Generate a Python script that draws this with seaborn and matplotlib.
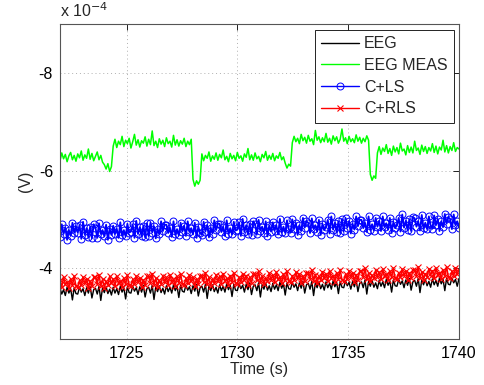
import numpy as np
import pandas as pd
import matplotlib
matplotlib.use("Agg")
import matplotlib.pyplot as plt
import seaborn as sns

# ---- data (values in units of 1e-4 V), sampled every 0.08 s ----
t_start, t_step, n_samples = 1722.0, 0.08, 226
time_s = t_start + t_step * np.arange(n_samples)

eeg = [
    -3.59, -3.47, -3.56, -3.44, -3.61, -3.49, -3.58, -3.35, -3.60, -3.48,
    -3.47, -3.61, -3.51, -3.58, -3.44, -3.60, -3.49, -3.63, -3.39, -3.56,
    -3.59, -3.47, -3.63, -3.34, -3.60, -3.50, -3.62, -3.48, -3.57, -3.45,
    -3.61, -3.49, -3.58, -3.46, -3.63, -3.51, -3.60, -3.37, -3.62, -3.50,
    -3.49, -3.63, -3.53, -3.60, -3.46, -3.62, -3.51, -3.65, -3.41, -3.58,
    -3.61, -3.49, -3.65, -3.36, -3.62, -3.52, -3.64, -3.50, -3.59, -3.47,
    -3.64, -3.52, -3.61, -3.49, -3.66, -3.54, -3.63, -3.40, -3.65, -3.53,
    -3.51, -3.65, -3.55, -3.62, -3.48, -3.64, -3.53, -3.67, -3.43, -3.60,
    -3.63, -3.51, -3.67, -3.38, -3.64, -3.54, -3.66, -3.52, -3.61, -3.49,
    -3.66, -3.54, -3.63, -3.51, -3.68, -3.56, -3.65, -3.42, -3.67, -3.55,
    -3.54, -3.68, -3.58, -3.65, -3.51, -3.67, -3.56, -3.70, -3.46, -3.63,
    -3.66, -3.54, -3.70, -3.41, -3.67, -3.57, -3.69, -3.55, -3.64, -3.52,
    -3.69, -3.57, -3.66, -3.54, -3.71, -3.59, -3.68, -3.45, -3.70, -3.58,
    -3.57, -3.71, -3.61, -3.68, -3.54, -3.70, -3.59, -3.73, -3.49, -3.66,
    -3.69, -3.57, -3.73, -3.44, -3.70, -3.60, -3.72, -3.58, -3.67, -3.55,
    -3.72, -3.60, -3.69, -3.57, -3.74, -3.62, -3.71, -3.48, -3.73, -3.61,
    -3.60, -3.74, -3.64, -3.71, -3.57, -3.73, -3.62, -3.76, -3.52, -3.69,
    -3.72, -3.60, -3.76, -3.47, -3.73, -3.63, -3.75, -3.61, -3.70, -3.58,
    -3.75, -3.63, -3.72, -3.60, -3.77, -3.65, -3.74, -3.51, -3.76, -3.64,
    -3.63, -3.77, -3.67, -3.74, -3.60, -3.76, -3.65, -3.79, -3.55, -3.72,
    -3.75, -3.63, -3.79, -3.50, -3.76, -3.66, -3.78, -3.64, -3.73, -3.61,
    -3.78, -3.66, -3.75, -3.63, -3.80, -3.68, -3.77, -3.54, -3.79, -3.67,
    -3.66, -3.80, -3.70, -3.77, -3.63, -3.79,
]

eeg_meas = [
    -6.20, -6.36, -6.24, -6.33, -6.18, -6.30, -6.37, -6.22, -6.31, -6.19,
    -6.34, -6.26, -6.40, -6.21, -6.32, -6.25, -6.44, -6.23, -6.35, -6.20,
    -6.29, -6.38, -6.22, -6.31, -6.17, -6.12, -6.03, -6.14, -5.98, -6.08,
    -6.50, -6.64, -6.47, -6.60, -6.53, -6.70, -6.49, -6.62, -6.55, -6.66,
    -6.46, -6.59, -6.74, -6.52, -6.63, -6.48, -6.61, -6.56, -6.69, -6.50,
    -6.64, -6.53, -6.81, -6.51, -6.60, -6.47, -6.65, -6.54, -6.62, -6.49,
    -6.67, -6.55, -6.60, -6.48, -6.72, -6.52, -6.63, -6.50, -6.61, -6.54,
    -6.66, -6.49, -6.60, -6.53, -6.64,
    -5.82, -5.68, -5.79, -5.72, -5.80,
    -6.34, -6.20, -6.31, -6.25, -6.38, -6.19, -6.30, -6.23, -6.36, -6.21,
    -6.33, -6.26, -6.42, -6.22, -6.29, -6.18, -6.35, -6.24, -6.31, -6.20,
    -6.37, -6.25, -6.30, -6.19, -6.34, -6.27, -6.45, -6.22, -6.32, -6.21,
    -6.36, -6.24, -6.29, -6.18, -6.33, -6.26, -6.39, -6.21, -6.31, -6.23,
    -6.35, -6.20, -6.30, -6.25, -6.37, -6.22, -6.28, -6.15, -6.05, -6.13, -6.09,
    -6.57, -6.70, -6.59, -6.66, -6.55, -6.74, -6.61, -6.68, -6.56, -6.72,
    -6.60, -6.65, -6.53, -6.82, -6.62, -6.69, -6.57, -6.67, -6.59, -6.76,
    -6.58, -6.66, -6.54, -6.71, -6.61, -6.69, -6.56, -6.64, -6.85, -6.60,
    -6.67, -6.55, -6.70, -6.59, -6.65, -6.57, -6.73, -6.60, -6.68, -6.56,
    -6.66, -6.59, -6.71, -6.62,
    -5.92, -5.80, -5.89, -5.84,
    -6.36, -6.49, -6.33, -6.46, -6.39, -6.53, -6.35, -6.45, -6.31, -6.50,
    -6.38, -6.47, -6.34, -6.56, -6.40, -6.44, -6.32, -6.51, -6.37, -6.48,
    -6.36, -6.60, -6.41, -6.46, -6.33, -6.52, -6.39, -6.49, -6.35, -6.47,
    -6.40, -6.55, -6.37, -6.50, -6.34, -6.48, -6.42, -6.62, -6.38, -6.51,
    -6.36, -6.49, -6.41, -6.57, -6.39, -6.47, -6.44,
]

c_ls = [
    -4.63, -4.90, -4.70, -4.83, -4.58, -4.78, -4.66, -4.93, -4.73, -4.86,
    -4.73, -4.88, -4.60, -4.95, -4.68, -4.82, -4.63, -4.85, -4.61, -4.90,
    -4.83, -4.62, -4.92, -4.70, -4.78, -4.65, -4.89, -4.58, -4.81, -4.68,
    -4.87, -4.70, -4.81, -4.62, -4.94, -4.67, -4.78, -4.65, -4.91, -4.73,
    -4.75, -4.90, -4.62, -4.97, -4.70, -4.84, -4.65, -4.87, -4.63, -4.92,
    -4.66, -4.93, -4.73, -4.86, -4.61, -4.81, -4.69, -4.96, -4.76, -4.89,
    -4.89, -4.72, -4.83, -4.64, -4.96, -4.69, -4.80, -4.67, -4.93, -4.75,
    -4.87, -4.66, -4.96, -4.74, -4.82, -4.69, -4.93, -4.62, -4.85, -4.72,
    -4.68, -4.95, -4.75, -4.88, -4.63, -4.83, -4.71, -4.98, -4.78, -4.91,
    -4.91, -4.74, -4.85, -4.66, -4.98, -4.71, -4.82, -4.69, -4.95, -4.77,
    -4.79, -4.94, -4.66, -5.01, -4.74, -4.88, -4.69, -4.91, -4.67, -4.96,
    -4.90, -4.69, -4.99, -4.77, -4.85, -4.72, -4.96, -4.65, -4.88, -4.75,
    -4.94, -4.77, -4.88, -4.69, -5.01, -4.74, -4.85, -4.72, -4.98, -4.80,
    -4.73, -5.00, -4.80, -4.93, -4.68, -4.88, -4.76, -5.03, -4.83, -4.96,
    -4.93, -4.72, -5.02, -4.80, -4.88, -4.75, -4.99, -4.68, -4.91, -4.78,
    -4.84, -4.99, -4.71, -5.06, -4.79, -4.93, -4.74, -4.96, -4.72, -5.01,
    -4.76, -5.03, -4.83, -4.96, -4.71, -4.91, -4.79, -5.06, -4.86, -4.99,
    -4.99, -4.82, -4.93, -4.74, -5.06, -4.79, -4.90, -4.77, -5.03, -4.85,
    -4.97, -4.76, -5.06, -4.84, -4.92, -4.79, -5.03, -4.72, -4.95, -4.82,
    -4.88, -5.03, -4.75, -5.10, -4.83, -4.97, -4.78, -5.00, -4.76, -5.05,
    -5.02, -4.85, -4.96, -4.77, -5.09, -4.82, -4.93, -4.80, -5.06, -4.88,
    -4.81, -5.08, -4.88, -5.01, -4.76, -4.96, -4.84, -5.11, -4.91, -5.04,
    -5.01, -4.80, -5.10, -4.88, -4.96, -4.83,
]

c_rls = [
    -3.76, -3.61, -3.82, -3.67, -3.72, -3.59, -3.78, -3.65, -3.84, -3.63,
    -3.61, -3.75, -3.65, -3.82, -3.69, -3.78, -3.59, -3.74, -3.63, -3.81,
    -3.81, -3.68, -3.87, -3.64, -3.77, -3.60, -3.73, -3.66, -3.83, -3.69,
    -3.78, -3.63, -3.84, -3.69, -3.74, -3.61, -3.80, -3.67, -3.86, -3.65,
    -3.63, -3.77, -3.67, -3.84, -3.71, -3.80, -3.61, -3.76, -3.65, -3.83,
    -3.83, -3.70, -3.89, -3.66, -3.79, -3.62, -3.75, -3.68, -3.85, -3.71,
    -3.81, -3.66, -3.87, -3.72, -3.77, -3.64, -3.83, -3.70, -3.89, -3.68,
    -3.65, -3.79, -3.69, -3.86, -3.73, -3.82, -3.63, -3.78, -3.67, -3.85,
    -3.85, -3.72, -3.91, -3.68, -3.81, -3.64, -3.77, -3.70, -3.87, -3.73,
    -3.83, -3.68, -3.89, -3.74, -3.79, -3.66, -3.85, -3.72, -3.91, -3.70,
    -3.68, -3.82, -3.72, -3.89, -3.76, -3.85, -3.66, -3.81, -3.70, -3.88,
    -3.88, -3.75, -3.94, -3.71, -3.84, -3.67, -3.80, -3.73, -3.90, -3.76,
    -3.86, -3.71, -3.92, -3.77, -3.82, -3.69, -3.88, -3.75, -3.94, -3.73,
    -3.71, -3.85, -3.75, -3.92, -3.79, -3.88, -3.69, -3.84, -3.73, -3.91,
    -3.91, -3.78, -3.97, -3.74, -3.87, -3.70, -3.83, -3.76, -3.93, -3.79,
    -3.89, -3.74, -3.95, -3.80, -3.85, -3.72, -3.91, -3.78, -3.97, -3.76,
    -3.74, -3.88, -3.78, -3.95, -3.82, -3.91, -3.72, -3.87, -3.76, -3.94,
    -3.94, -3.81, -4.00, -3.77, -3.90, -3.73, -3.86, -3.79, -3.96, -3.82,
    -3.92, -3.77, -3.98, -3.83, -3.88, -3.75, -3.94, -3.81, -4.00, -3.79,
    -3.77, -3.91, -3.81, -3.98, -3.85, -3.94, -3.75, -3.90, -3.79, -3.97,
    -3.97, -3.84, -4.03, -3.80, -3.93, -3.76, -3.89, -3.82, -3.99, -3.85,
    -3.95, -3.80, -4.01, -3.86, -3.91, -3.78, -3.97, -3.84, -4.03, -3.82,
    -3.80, -3.94, -3.84, -4.01, -3.88, -3.97,
]

x_ticks = [1725, 1730, 1735, 1740]
y_ticks = [-8, -6, -4]
series_labels = ["EEG", "EEG MEAS", "C+LS", "C+RLS"]

# ---- style ----
sns.set_style("white")
plt.rcParams["font.family"] = ["Liberation Sans", "DejaVu Sans"]
FS = 11.5
plt.rcParams["font.size"] = FS

fig = plt.figure(figsize=(4.85, 3.85), dpi=100)
ax = fig.add_axes([60 / 485, 46 / 385, 399 / 485, 315 / 385])

sns.lineplot(x=time_s, y=eeg, ax=ax, color="black", linewidth=1.0,
             estimator=None, sort=False, label=series_labels[0])
sns.lineplot(x=time_s, y=eeg_meas, ax=ax, color="#00ff00", linewidth=1.1,
             estimator=None, sort=False, label=series_labels[1])
sns.lineplot(x=time_s, y=c_ls, ax=ax, color="#0000ff", linewidth=1.3,
             marker="o", markersize=5.0, markerfacecolor="none",
             markeredgecolor="#0000ff", markeredgewidth=0.7,
             estimator=None, sort=False, label=series_labels[2])
sns.lineplot(x=time_s, y=c_rls, ax=ax, color="#ff0000", linewidth=1.1,
             marker="x", markersize=4.0, markeredgewidth=0.8,
             markeredgecolor="#ff0000",
             estimator=None, sort=False, label=series_labels[3])

ax.set_xlim(1722, 1740)
ax.set_ylim(-2.55, -9.0)
ax.set_xticks(x_ticks)
ax.set_yticks(y_ticks)
ax.set_xticklabels([str(v) for v in x_ticks])
ax.set_yticklabels([str(v) for v in y_ticks])
ax.grid(True, linestyle=(0, (1, 3)), color="#b0b0b0", linewidth=0.7)
ax.tick_params(direction="in", length=4, width=0.6, top=True, right=True,
               labelsize=FS, colors="black", pad=5)
for s in ax.spines.values():
    s.set_color("#555555")
    s.set_linewidth(0.8)

ax.set_xlabel("Time (s)", fontsize=FS, labelpad=1)
ax.set_ylabel("(V)", fontsize=FS, labelpad=4)
ax.text(0.0, 1.012, r"x 10$^{-4}$", transform=ax.transAxes,
        ha="left", va="bottom", fontsize=FS)

leg = ax.legend(loc="upper right", bbox_to_anchor=(0.988, 0.981),
                frameon=True, fancybox=False, fontsize=FS,
                handlelength=2.4, handletextpad=0.3, labelspacing=0.42,
                borderpad=0.4, borderaxespad=0.0)
for h in leg.get_lines():
    h.set_linewidth(1.0)
leg.get_frame().set_edgecolor("black")
leg.get_frame().set_linewidth(0.6)
leg.get_frame().set_facecolor("white")
leg.get_frame().set_alpha(1.0)

fig.savefig("out.png", dpi=100)
